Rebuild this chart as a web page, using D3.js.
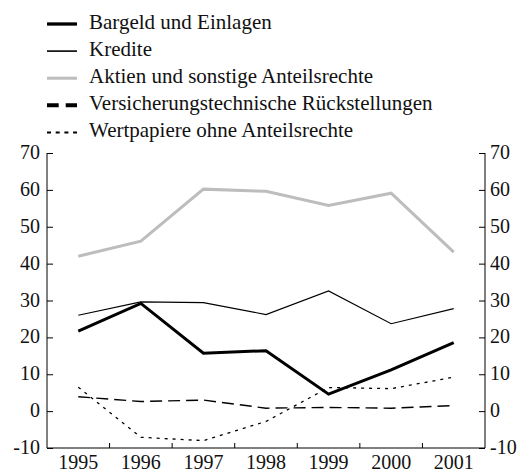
<!DOCTYPE html>
<html>
<head>
<meta charset="utf-8">
<script src="https://cdn.jsdelivr.net/npm/d3@7"></script>
</head>
<body style="margin:0">
<svg id="chart" width="528" height="472" font-family="Liberation Serif" style="display:block"></svg>
<script>
// Years on the horizontal axis
const years = ["1995", "1996", "1997", "1998", "1999", "2000", "2001"];

// Series values (percent)
const bargeld      = [21.7, 29.2, 15.7, 16.4, 4.6, 11.2, 18.6];
const kredite      = [26.0, 29.6, 29.4, 26.2, 32.6, 23.7, 27.8];
const aktien       = [42.0, 46.1, 60.2, 59.6, 55.8, 59.1, 43.1];
const versicherung = [3.9, 2.6, 3.0, 0.8, 1.0, 0.8, 1.5];
const wertpapiere  = [6.5, -7.1, -8.0, -2.8, 6.4, 6.1, 9.2];

const yTicks = [-10, 0, 10, 20, 30, 40, 50, 60, 70];

const seriesNames = [
  "Bargeld und Einlagen",
  "Kredite",
  "Aktien und sonstige Anteilsrechte",
  "Versicherungstechnische Rückstellungen",
  "Wertpapiere ohne Anteilsrechte"
];

const series = [
  { name: seriesNames[0], values: bargeld,      color: "#000",    width: 3,   dash: null,   legendWidth: 3.3, legendDash: null },
  { name: seriesNames[1], values: kredite,      color: "#000",    width: 1.2, dash: null,   legendWidth: 1.6, legendDash: null },
  { name: seriesNames[2], values: aktien,       color: "#bdbdbd", width: 3,   dash: null,   legendWidth: 3,   legendDash: null },
  { name: seriesNames[3], values: versicherung, color: "#000",    width: 1.4, dash: "12,6", legendWidth: 4,   legendDash: "11.7,7" },
  { name: seriesNames[4], values: wertpapiere,  color: "#000",    width: 1.3, dash: "3,5",  legendWidth: 2,   legendDash: "4,4.7" }
];

const svg = d3.select("#chart");
const plotLeft = 47, plotRight = 485, plotTop = 153, plotBottom = 448;

const x = d3.scaleBand().domain(years).range([plotLeft, plotRight]).padding(0);
const y = d3.scaleLinear().domain([-10, 70]).range([plotBottom, plotTop]);

// Serif text styling applied to every label
function serif(sel, size) {
  sel.attr("font-size", size)
    .attr("font-family", "Liberation Serif")
    .style("font-family", '"Liberation Serif"')
    .attr("fill", "#111");
}

// Left axis
svg.append("g")
  .attr("transform", `translate(${plotLeft},0)`)
  .call(d3.axisRight(y).tickValues(yTicks).tickSize(6).tickFormat(""))
  .call(g => g.select(".domain").attr("d", `M0,${plotTop}V${plotBottom}`))
  .call(g => g.selectAll("line, path").attr("stroke", "#000").attr("stroke-width", 1));

svg.append("g").selectAll("text").data(yTicks).join("text")
  .call(serif, 20)
  .attr("x", plotLeft - 7).attr("y", d => y(d)).attr("dy", "0.3em")
  .attr("text-anchor", "end").text(d => d);

// Right axis
svg.append("g")
  .attr("transform", `translate(${plotRight},0)`)
  .call(d3.axisLeft(y).tickValues(yTicks).tickSize(6).tickFormat(""))
  .call(g => g.select(".domain").attr("d", `M0,${plotTop}V${plotBottom}`))
  .call(g => g.selectAll("line, path").attr("stroke", "#000").attr("stroke-width", 1));

svg.append("g").selectAll("text").data(yTicks).join("text")
  .call(serif, 20)
  .attr("x", plotRight + 5).attr("y", d => y(d)).attr("dy", "0.3em")
  .attr("text-anchor", "start").text(d => d);

// Bottom axis: ticks between years, labels centred under each year
svg.append("line")
  .attr("x1", plotLeft).attr("x2", plotRight).attr("y1", plotBottom).attr("y2", plotBottom)
  .attr("stroke", "#000").attr("stroke-width", 1);

svg.append("g").selectAll("line").data(years.slice(1)).join("line")
  .attr("x1", d => x(d)).attr("x2", d => x(d))
  .attr("y1", plotBottom).attr("y2", plotBottom - 5)
  .attr("stroke", "#000").attr("stroke-width", 1);

svg.append("g").selectAll("text").data(years).join("text")
  .call(serif, 20)
  .attr("x", d => x(d) + x.bandwidth() / 2).attr("y", plotBottom + 21)
  .attr("text-anchor", "middle").text(d => d);

// Series lines
const line = d3.line()
  .x((d, i) => x(years[i]) + x.bandwidth() / 2)
  .y(d => y(d));

const drawOrder = [2, 1, 3, 4, 0];
drawOrder.forEach(k => {
  const s = series[k];
  svg.append("path")
    .datum(s.values)
    .attr("d", line)
    .attr("fill", "none")
    .attr("stroke", s.color)
    .attr("stroke-width", s.width)
    .attr("stroke-dasharray", s.dash)
    .attr("stroke-linejoin", "miter");
});

// Legend
const legend = svg.append("g");
series.forEach((s, i) => {
  const ly = 24 + i * 27.1;
  legend.append("line")
    .attr("x1", 47).attr("x2", 77).attr("y1", ly).attr("y2", ly)
    .attr("stroke", s.color)
    .attr("stroke-width", s.legendWidth)
    .attr("stroke-dasharray", s.legendDash);
  legend.append("text")
    .call(serif, 21)
    .attr("x", 89).attr("y", ly + 5)
    .text(s.name);
});
</script>
</body>
</html>
